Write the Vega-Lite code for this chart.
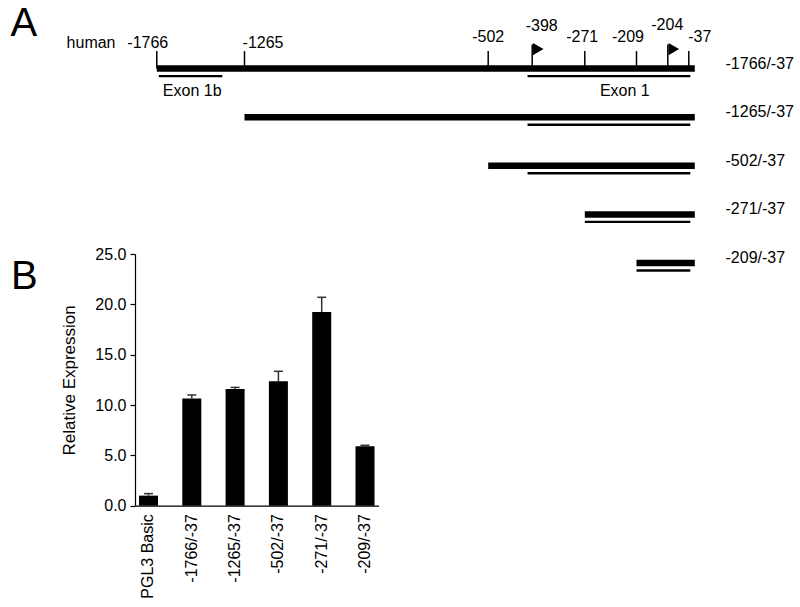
{
  "$schema": "https://vega.github.io/schema/vega-lite/v6.json",
  "padding": {"left": 10, "top": 3, "right": 5, "bottom": 5},
  "background": "white",
  "spacing": 0,
  "bounds": "flush",
  "config": {
    "view": {"stroke": null},
    "font": "Liberation Sans",
    "text": {"font": "Liberation Sans", "fontSize": 16, "color": "black"}
  },
  "datasets": {
    "constructs": [
      {"construct": "-1766/-37", "start": -1766, "end": -37, "exonStart": -409, "row": 1},
      {"construct": "-1265/-37", "start": -1265, "end": -37, "exonStart": -409, "row": 2},
      {"construct": "-502/-37", "start": -502, "end": -37, "exonStart": -409, "row": 3},
      {"construct": "-271/-37", "start": -271, "end": -37, "exonStart": -271, "row": 4},
      {"construct": "-209/-37", "start": -209, "end": -37, "exonStart": -209, "row": 5}
    ],
    "sites": [
      {"pos": -1766, "label": "-1766", "kind": "site"},
      {"pos": -1265, "label": "-1265", "kind": "site"},
      {"pos": -502, "label": "-502", "kind": "site"},
      {"pos": -398, "label": "-398", "kind": "TSS"},
      {"pos": -271, "label": "-271", "kind": "site"},
      {"pos": -209, "label": "-209", "kind": "site"},
      {"pos": -204, "label": "-204", "kind": "TSS"},
      {"pos": -37, "label": "-37", "kind": "site"}
    ],
    "exons": [
      {"name": "Exon 1b", "start": -1766, "end": -1392},
      {"name": "Exon 1", "start": -409, "end": -37}
    ],
    "panels": [
      {"panel": "A", "species": "human"}
    ],
    "expr": [
      {"construct": "PGL3 Basic", "value": 1.0, "upper": 1.2},
      {"construct": "-1766/-37", "value": 10.65, "upper": 11.0},
      {"construct": "-1265/-37", "value": 11.6, "upper": 11.75},
      {"construct": "-502/-37", "value": 12.35, "upper": 13.35},
      {"construct": "-271/-37", "value": 19.25, "upper": 20.7},
      {"construct": "-209/-37", "value": 5.9, "upper": 6.0}
    ]
  },
  "vconcat": [
    {
      "width": 560,
      "height": 233.3,
      "layer": [
        {
          "data": {"name": "constructs"},
          "mark": {"type": "rule", "color": "black", "strokeWidth": 6.5, "strokeCap": "butt", "x2Offset": 6, "clip": false},
          "encoding": {
            "x": {"field": "start", "type": "quantitative", "axis": null,
              "scale": {"type": "linear", "domain": [-1766, -1265, -502, -398, -271, -209, -204, -37],
                "range": [21.8, 109.5, 353.2, 397.2, 449.8, 501.5, 532.8, 553.8], "nice": false, "zero": false}},
            "x2": {"field": "end"},
            "y": {"field": "row", "type": "quantitative", "axis": null,
              "scale": {"domain": [0, 4.8], "reverse": true, "nice": false, "zero": false}}
          }
        },
        {
          "data": {"name": "constructs"},
          "mark": {"type": "rule", "color": "black", "strokeWidth": 2.4, "strokeCap": "butt", "x2Offset": 1.5, "yOffset": 7.5, "clip": false},
          "encoding": {
            "x": {"field": "exonStart", "type": "quantitative"},
            "x2": {"field": "end"},
            "y": {"field": "row", "type": "quantitative"}
          }
        },
        {
          "data": {"name": "exons"},
          "transform": [{"filter": "datum.name == 'Exon 1b'"}],
          "mark": {"type": "rule", "color": "black", "strokeWidth": 2.4, "strokeCap": "butt", "yOffset": 7.5, "xOffset": 2, "clip": false},
          "encoding": {
            "x": {"field": "start", "type": "quantitative"},
            "x2": {"field": "end"},
            "y": {"datum": 1}
          }
        },
        {
          "data": {"name": "sites"},
          "transform": [{"filter": "datum.kind == 'site'"}],
          "mark": {"type": "rule", "color": "black", "strokeWidth": 1.5, "y2Offset": -17.5, "clip": false},
          "encoding": {
            "x": {"field": "pos", "type": "quantitative"},
            "y": {"datum": 1},
            "y2": {"datum": 1}
          }
        },
        {
          "data": {"name": "sites"},
          "transform": [{"filter": "datum.kind == 'TSS'"}],
          "mark": {"type": "rule", "color": "black", "strokeWidth": 1.5, "y2Offset": -24, "clip": false},
          "encoding": {
            "x": {"field": "pos", "type": "quantitative"},
            "y": {"datum": 1},
            "y2": {"datum": 1}
          }
        },
        {
          "data": {"name": "sites"},
          "transform": [{"filter": "datum.kind == 'TSS'"}],
          "mark": {"type": "point", "shape": "triangle-right", "filled": true, "color": "black", "opacity": 1, "size": 150, "xOffset": 6, "yOffset": -19.5, "clip": false},
          "encoding": {
            "x": {"field": "pos", "type": "quantitative"},
            "y": {"datum": 1}
          }
        },
        {
          "data": {"name": "sites"},
          "transform": [{"filter": "datum.pos == -1766"}],
          "mark": {"type": "text", "align": "center", "baseline": "alphabetic", "dx": -9, "dy": -21.1, "clip": false},
          "encoding": {"x": {"field": "pos", "type": "quantitative"}, "y": {"datum": 1}, "text": {"field": "label"}}
        },
        {
          "data": {"name": "sites"},
          "transform": [{"filter": "datum.pos == -1265"}],
          "mark": {"type": "text", "align": "center", "baseline": "alphabetic", "dx": 18.5, "dy": -20.8, "clip": false},
          "encoding": {"x": {"field": "pos", "type": "quantitative"}, "y": {"datum": 1}, "text": {"field": "label"}}
        },
        {
          "data": {"name": "sites"},
          "transform": [{"filter": "datum.pos == -502"}],
          "mark": {"type": "text", "align": "center", "baseline": "alphabetic", "dx": 0, "dy": -27.1, "clip": false},
          "encoding": {"x": {"field": "pos", "type": "quantitative"}, "y": {"datum": 1}, "text": {"field": "label"}}
        },
        {
          "data": {"name": "sites"},
          "transform": [{"filter": "datum.pos == -398"}],
          "mark": {"type": "text", "align": "center", "baseline": "alphabetic", "dx": 9.5, "dy": -37.8, "clip": false},
          "encoding": {"x": {"field": "pos", "type": "quantitative"}, "y": {"datum": 1}, "text": {"field": "label"}}
        },
        {
          "data": {"name": "sites"},
          "transform": [{"filter": "datum.pos == -271"}],
          "mark": {"type": "text", "align": "center", "baseline": "alphabetic", "dx": -2.6, "dy": -27.1, "clip": false},
          "encoding": {"x": {"field": "pos", "type": "quantitative"}, "y": {"datum": 1}, "text": {"field": "label"}}
        },
        {
          "data": {"name": "sites"},
          "transform": [{"filter": "datum.pos == -209"}],
          "mark": {"type": "text", "align": "center", "baseline": "alphabetic", "dx": -8.5, "dy": -27.1, "clip": false},
          "encoding": {"x": {"field": "pos", "type": "quantitative"}, "y": {"datum": 1}, "text": {"field": "label"}}
        },
        {
          "data": {"name": "sites"},
          "transform": [{"filter": "datum.pos == -204"}],
          "mark": {"type": "text", "align": "center", "baseline": "alphabetic", "dx": -0.5, "dy": -38.5, "clip": false},
          "encoding": {"x": {"field": "pos", "type": "quantitative"}, "y": {"datum": 1}, "text": {"field": "label"}}
        },
        {
          "data": {"name": "sites"},
          "transform": [{"filter": "datum.pos == -37"}],
          "mark": {"type": "text", "align": "center", "baseline": "alphabetic", "dx": 11, "dy": -27.1, "clip": false},
          "encoding": {"x": {"field": "pos", "type": "quantitative"}, "y": {"datum": 1}, "text": {"field": "label"}}
        },
        {
          "data": {"name": "panels"},
          "mark": {"type": "text", "align": "right", "baseline": "alphabetic", "dx": -41.3, "dy": -21.1, "clip": false},
          "encoding": {"x": {"datum": -1766}, "y": {"datum": 1}, "text": {"field": "species"}}
        },
        {
          "data": {"name": "panels"},
          "mark": {"type": "text", "align": "left", "baseline": "alphabetic", "fontSize": 40, "dx": -146.3, "dy": -33, "clip": false},
          "encoding": {"x": {"datum": -1766}, "y": {"datum": 1}, "text": {"field": "panel"}}
        },
        {
          "data": {"name": "exons"},
          "transform": [{"filter": "datum.name == 'Exon 1b'"}],
          "mark": {"type": "text", "align": "center", "baseline": "alphabetic", "dx": 35.4, "dy": 27.2, "clip": false},
          "encoding": {"x": {"field": "start", "type": "quantitative"}, "y": {"datum": 1}, "text": {"field": "name"}}
        },
        {
          "data": {"name": "exons"},
          "transform": [{"filter": "datum.name == 'Exon 1'"}],
          "mark": {"type": "text", "align": "center", "baseline": "alphabetic", "dx": -64, "dy": 27.2, "clip": false},
          "encoding": {"x": {"field": "end", "type": "quantitative"}, "y": {"datum": 1}, "text": {"field": "name"}}
        },
        {
          "data": {"name": "constructs"},
          "mark": {"type": "text", "align": "left", "baseline": "alphabetic", "dx": 36.7, "dy": 0, "clip": false},
          "encoding": {"x": {"field": "end", "type": "quantitative"}, "y": {"field": "row", "type": "quantitative"}, "text": {"field": "construct"}}
        }
      ]
    },
    {
      "width": 243.5,
      "height": 251.7,
      "layer": [
        {
          "data": {"name": "expr"},
          "mark": {"type": "bar", "color": "black"},
          "encoding": {
            "x": {"field": "construct", "type": "nominal", "sort": null,
              "scale": {"paddingInner": 0.561, "paddingOuter": 0.092},
              "axis": {"title": null, "ticks": false, "labelAngle": -90, "labelAlign": "right", "labelBaseline": "middle",
                "labelPadding": 8, "labelFont": "Liberation Sans", "labelFontSize": 16, "labelColor": "black",
                "domainColor": "black", "domainWidth": 1.2}},
            "y": {"field": "value", "type": "quantitative",
              "scale": {"domain": [0, 25], "nice": false},
              "axis": {"title": "Relative Expression", "values": [0, 5, 10, 15, 20, 25], "format": ".1f", "grid": false,
                "domainColor": "black", "domainWidth": 1.2, "tickColor": "black", "tickSize": 5, "tickWidth": 1.2,
                "labelPadding": 4, "labelFont": "Liberation Sans", "labelFontSize": 16, "labelColor": "black",
                "titleFont": "Liberation Sans", "titleFontSize": 17, "titleFontWeight": "normal", "titleColor": "black",
                "titlePadding": 16}}
          }
        },
        {
          "data": {"name": "expr"},
          "mark": {"type": "rule", "color": "#333", "strokeWidth": 1.5},
          "encoding": {
            "x": {"field": "construct", "type": "nominal", "sort": null},
            "y": {"field": "value", "type": "quantitative"},
            "y2": {"field": "upper"}
          }
        },
        {
          "data": {"name": "expr"},
          "mark": {"type": "tick", "color": "#333", "thickness": 1.5, "size": 9, "orient": "horizontal", "opacity": 1},
          "encoding": {
            "x": {"field": "construct", "type": "nominal", "sort": null},
            "y": {"field": "upper", "type": "quantitative"}
          }
        },
        {
          "data": {"values": [{"panel": "B"}]},
          "mark": {"type": "text", "align": "left", "baseline": "alphabetic", "fontSize": 40, "dx": -137.6, "dy": 35.2, "clip": false},
          "encoding": {"x": {"datum": "PGL3 Basic"}, "y": {"datum": 25}, "text": {"field": "panel"}}
        }
      ]
    }
  ]
}
